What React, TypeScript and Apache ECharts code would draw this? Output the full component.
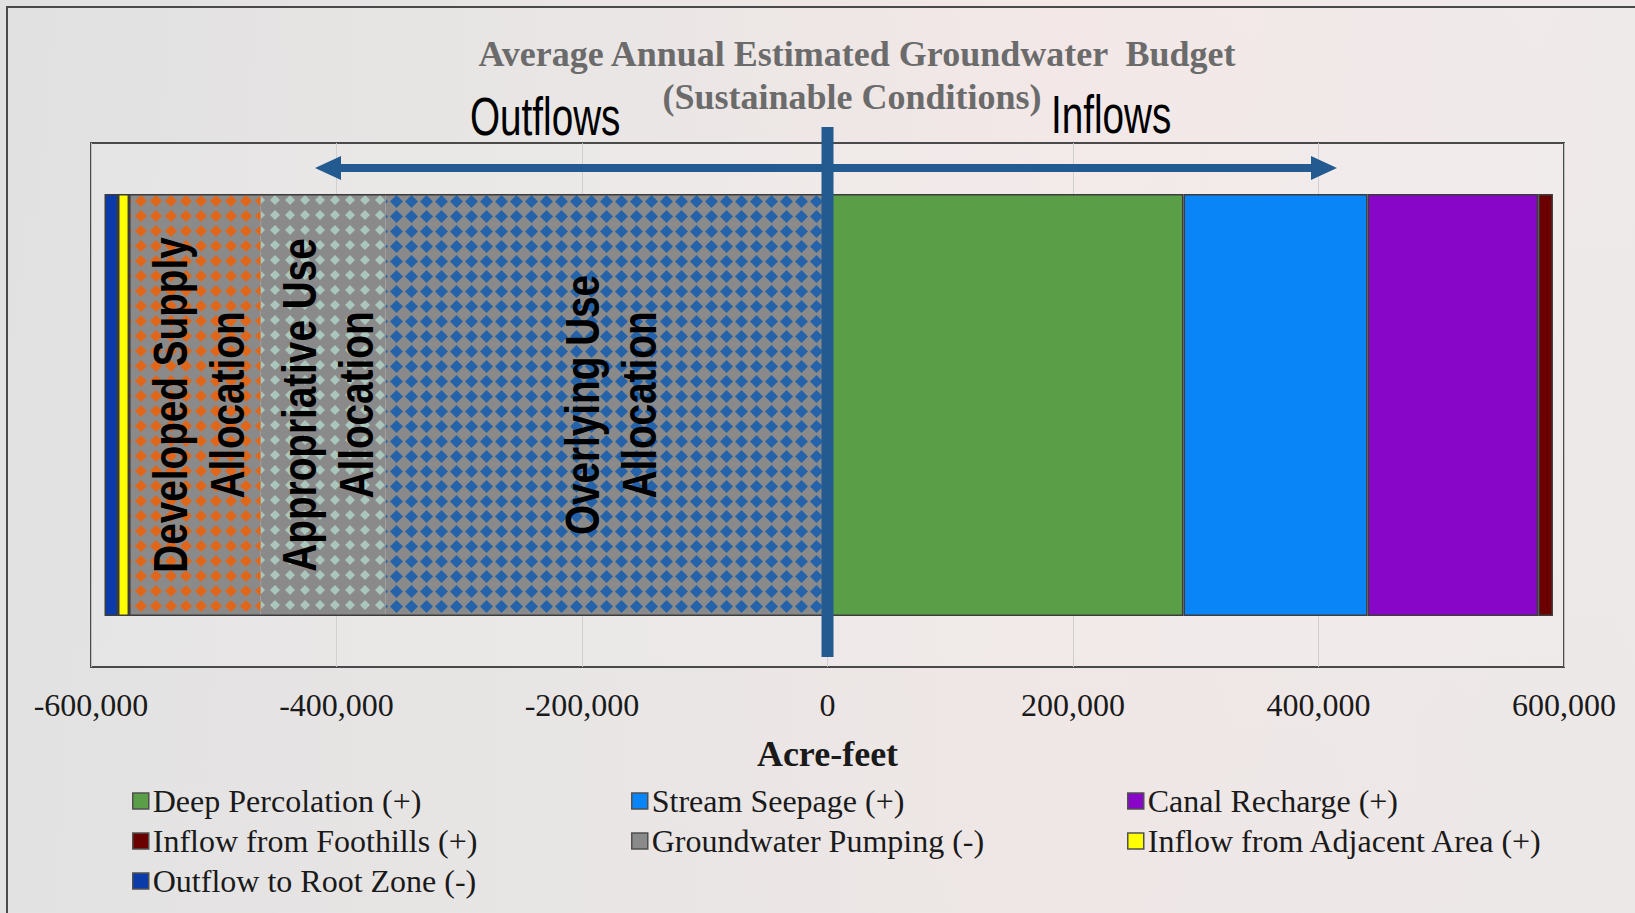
import React, { useEffect, useRef } from 'react';
import * as echarts from 'echarts';

// ---------------- DATA ----------------
const categories = ['Groundwater Budget'];

const inflowNames = ['Deep Percolation (+)', 'Stream Seepage (+)', 'Canal Recharge (+)', 'Inflow from Foothills (+)'];
const inflowValues = [290000, 150000, 139000, 12000];
const inflowColors = ['#5A9E48', '#0A85F8', '#8806C8', '#6A0000'];

const pumpingName = 'Groundwater Pumping (-)';
const pumpingColor = '#8A8A8A';
const pumpingSegmentNames = ['Overlying Use Allocation', 'Appropriative Use Allocation', 'Developed Supply Allocation'];
const pumpingLabels = ['Overlying Use\nAllocation', 'Appropriative Use\nAllocation', 'Developed Supply\nAllocation'];
const pumpingValues = [-360000, -102000, -107000];
const pumpingDiamondColors = ['#2463AA', '#AAC6BD', '#E0661A'];
const pumpingDiamondSizes = [13, 10, 12];

const edgeNames = ['Inflow from Adjacent Area (+)', 'Outflow to Root Zone (-)'];
const edgeValues = [-9000, -11000];
const edgeColors = ['#FFFF00', '#0B3BA8'];

const axisMin = -600000;
const axisMax = 600000;
const axisInterval = 200000;

const titleLines = ['Average Annual Estimated Groundwater  Budget', '(Sustainable Conditions)'];
const axisName = 'Acre-feet';
const directionLabels = ['Outflows', 'Inflows'];

const legendColumns = [
  ['Deep Percolation (+)', 'Inflow from Foothills (+)', 'Outflow to Root Zone (-)'],
  ['Stream Seepage (+)', 'Groundwater Pumping (-)'],
  ['Canal Recharge (+)', 'Inflow from Adjacent Area (+)'],
];

// ---------------- STYLE ----------------
const SERIF = '"Times New Roman", "Liberation Serif", serif';
const SANS = 'Arial, "Liberation Sans", sans-serif';
const BORDER = '#3c3c3c';
const ARROW = '#235B91';

export default function App() {
  const ref = useRef<HTMLDivElement>(null);

  useEffect(() => {
    if (!ref.current) return;
    const chart = echarts.init(ref.current, null, { renderer: 'svg' });

    const barBase = {
      type: 'bar' as const,
      stack: 'budget',
      barWidth: 422,
      barGap: '-100%',
      emphasis: { disabled: true },
    };

    const series: any[] = [];
    inflowNames.forEach((n, i) => {
      series.push({
        ...barBase,
        name: n,
        data: [inflowValues[i]],
        itemStyle: { color: inflowColors[i], borderColor: BORDER, borderWidth: 1.5 },
      });
    });
    pumpingSegmentNames.forEach((n, i) => {
      const s = pumpingDiamondSizes[i];
      series.push({
        ...barBase,
        name: n,
        data: [pumpingValues[i]],
        itemStyle: {
          color: pumpingColor,
          borderWidth: 0,
          decal: {
            symbol: 'diamond',
            symbolSize: 1,
            color: pumpingDiamondColors[i],
            dashArrayX: [s, 15 - s],
            dashArrayY: [s, 15 - s],
          },
        },
      });
    });
    edgeNames.forEach((n, i) => {
      series.push({
        ...barBase,
        name: n,
        data: [edgeValues[i]],
        itemStyle: { color: edgeColors[i], borderColor: BORDER, borderWidth: 1.5 },
      });
    });
    // total groundwater pumping: outline around the three allocation segments
    series.push({
      type: 'bar',
      name: pumpingName,
      barWidth: 422,
      barGap: '-100%',
      emphasis: { disabled: true },
      data: [pumpingValues.reduce((a, b) => a + b, 0)],
      itemStyle: { color: 'rgba(0,0,0,0)', borderColor: BORDER, borderWidth: 1.5 },
    });

    const legendLefts = [127, 626, 1122];
    const legend = legendColumns.map((col, i) => ({
      data: col.map((name) =>
        name === pumpingName ? { name, itemStyle: { color: pumpingColor } } : { name }
      ),
      orient: 'vertical',
      left: legendLefts[i],
      top: 780,
      itemWidth: 16,
      itemHeight: 16,
      itemGap: 8,
      icon: 'rect',
      selectedMode: false,
      itemStyle: { borderColor: '#505050', borderWidth: 1.5 },
      textStyle: { fontFamily: SERIF, fontSize: 32, color: '#1a1a1a', padding: [0, 0, 0, -1] },
    }));

    chart.setOption({
      animation: false,
      backgroundColor: 'transparent',
      grid: {
        left: 91,
        right: 71,
        top: 143,
        bottom: 246,
        show: true,
        borderColor: '#4a4a4a',
        borderWidth: 2,
        backgroundColor: 'rgba(255,255,255,0.12)',
      },
      xAxis: {
        type: 'value',
        min: axisMin,
        max: axisMax,
        interval: axisInterval,
        axisLine: { show: false },
        axisTick: { show: false },
        splitLine: { show: true, lineStyle: { color: 'rgba(205,205,205,0.9)', width: 1 } },
        axisLabel: {
          formatter: (v: number) => v.toLocaleString('en-US'),
          fontFamily: SERIF,
          fontSize: 32,
          color: '#1a1a1a',
          margin: 22,
        },
        name: axisName,
        nameLocation: 'middle',
        nameGap: 69,
        nameTextStyle: { fontFamily: SERIF, fontWeight: 'bold', fontSize: 36, color: '#1a1a1a' },
      },
      yAxis: { type: 'category', data: categories, show: false },
      legend,
      series,
    });

    const toPx = (v: number) => chart.convertToPixel({ gridIndex: 0 }, [v, 0]) as number[];
    const zero = toPx(0);

    // label positions derived from cumulative stack values
    const labelEls: any[] = [];
    let cum = 0;
    pumpingValues.forEach((v, i) => {
      const center = cum + v / 2;
      cum += v;
      const p = toPx(center);
      labelEls.push({
        type: 'text',
        x: p[0] + 4,
        y: p[1],
        rotation: Math.PI / 2,
        scaleX: 0.79,
        z: 100,
        style: {
          text: pumpingLabels[i],
          font: `bold 49px ${SANS}`,
          fill: '#000',
          align: 'center',
          verticalAlign: 'middle',
          textAlign: 'center',
          textVerticalAlign: 'middle',
          lineHeight: 57,
        },
      });
    });

    const graphic: any[] = [
      {
        type: 'rect',
        z: 0,
        silent: true,
        shape: { x: 7, y: 7, width: 1700, height: 1000 },
        style: { fill: 'none', stroke: '#4a4a4a', lineWidth: 2 },
      },
      {
        type: 'text',
        x: 857,
        y: 54,
        z: 100,
        style: {
          text: titleLines[0],
          font: `bold 36px ${SERIF}`,
          fill: '#6b6b6b',
          align: 'center', verticalAlign: 'middle',
          textAlign: 'center', textVerticalAlign: 'middle',
        },
      },
      {
        type: 'text',
        x: 852,
        y: 97,
        z: 100,
        style: {
          text: titleLines[1],
          font: `bold 36px ${SERIF}`,
          fill: '#6b6b6b',
          align: 'center', verticalAlign: 'middle',
          textAlign: 'center', textVerticalAlign: 'middle',
        },
      },
      {
        type: 'text',
        x: 470,
        y: 117,
        scaleX: 0.73,
        z: 100,
        style: {
          text: directionLabels[0],
          font: `53px ${SANS}`,
          fill: '#000',
          align: 'left', verticalAlign: 'middle',
          textAlign: 'left', textVerticalAlign: 'middle',
        },
      },
      {
        type: 'text',
        x: 1051,
        y: 115,
        scaleX: 0.73,
        z: 100,
        style: {
          text: directionLabels[1],
          font: `53px ${SANS}`,
          fill: '#000',
          align: 'left', verticalAlign: 'middle',
          textAlign: 'left', textVerticalAlign: 'middle',
        },
      },
      {
        type: 'line',
        z: 100,
        shape: { x1: 340, y1: 168, x2: 1312, y2: 168 },
        style: { stroke: ARROW, lineWidth: 8 },
      },
      {
        type: 'polygon',
        z: 100,
        shape: { points: [[315, 168], [341, 156], [341, 180]] },
        style: { fill: ARROW },
      },
      {
        type: 'polygon',
        z: 100,
        shape: { points: [[1337, 168], [1311, 156], [1311, 180]] },
        style: { fill: ARROW },
      },
      {
        type: 'rect',
        z: 101,
        shape: { x: zero[0] - 6, y: 127, width: 12, height: 530 },
        style: { fill: ARROW },
      },
      ...labelEls,
    ];

    chart.setOption({ graphic });

    return () => chart.dispose();
  }, []);

  return (
    <div
      ref={ref}
      style={{
        position: 'fixed',
        left: 0,
        top: 0,
        width: 1635,
        height: 913,
        background:
          'linear-gradient(180deg, rgba(255,255,255,0.0) 0%, rgba(230,228,228,0.35) 100%), linear-gradient(90deg, #e1e1e1 0%, #e9e6e5 35%, #f3e8e7 65%, #efeaea 100%)',
      }}
    />
  );
}
